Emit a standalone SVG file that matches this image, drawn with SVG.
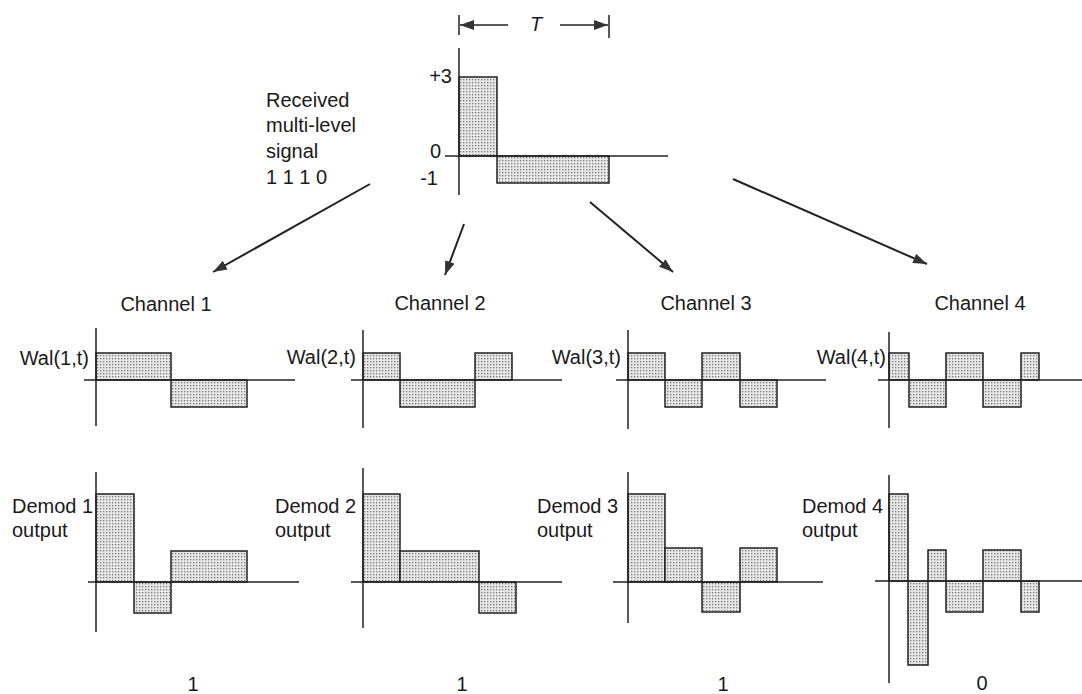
<svg xmlns="http://www.w3.org/2000/svg" width="1082" height="694" viewBox="0 0 1082 694">
  <defs>
    <!-- stippled fill used for all signal levels -->
    <pattern id="stipple" width="3" height="3" patternUnits="userSpaceOnUse">
      <rect width="3" height="3" fill="#e6e6e6"/>
      <rect x="1" y="1" width="1.3" height="1.3" fill="#7a7a7a"/>
    </pattern>
    <marker id="head" viewBox="0 0 14 10" refX="14" refY="5" markerWidth="14" markerHeight="10" markerUnits="userSpaceOnUse" orient="auto">
      <path d="M0,0 L14,5 L0,10 z" fill="#333"/>
    </marker>
    <marker id="dimhead" viewBox="0 0 14 10" refX="14" refY="5" markerWidth="14" markerHeight="10" markerUnits="userSpaceOnUse" orient="auto">
      <path d="M0,0 L14,5 L0,10 z" fill="#333"/>
    </marker>
  </defs>
  <style>
    .axis { stroke: #222; stroke-width: 1.5; fill: none; }
    .bar { fill: url(#stipple); stroke: #222; stroke-width: 1.5; }
    .lbl { font-family: "Liberation Sans", Arial, sans-serif; font-size: 20px; fill: #1a1a1a; }
    .arrow { stroke: #222; stroke-width: 2; fill: none; marker-end: url(#head); }
    .dim { stroke: #222; stroke-width: 1.5; fill: none; }
  </style>
  <rect width="1082" height="694" fill="#fff"/>

  <!-- received multi-level signal -->
  <g id="received-signal">
    <line class="dim" x1="459" y1="15" x2="459" y2="35"/>
    <line class="dim" x1="609" y1="15" x2="609" y2="38"/>
    <line class="dim" x1="508" y1="25" x2="460" y2="25" marker-end="url(#dimhead)"/>
    <line class="dim" x1="560" y1="25" x2="608" y2="25" marker-end="url(#dimhead)"/>
    <text class="lbl" x="536" y="31" text-anchor="middle" font-style="italic" font-size="18">T</text>
    <rect class="bar" x="459" y="77" width="38" height="79"/>
    <rect class="bar" x="497" y="156" width="112" height="27"/>
    <line class="axis" x1="459" y1="48" x2="459" y2="195"/>
    <line class="axis" x1="445" y1="156" x2="668" y2="156"/>
    <text class="lbl" x="452" y="83" text-anchor="end">+3</text>
    <text class="lbl" x="441" y="158" text-anchor="end">0</text>
    <text class="lbl" x="438" y="185" text-anchor="end">-1</text>
  </g>

  <g id="received-label">
    <text class="lbl" x="266" y="107">Received</text>
    <text class="lbl" x="266" y="132">multi-level</text>
    <text class="lbl" x="266" y="158">signal</text>
    <text class="lbl" x="266" y="184">1 1 1 0</text>
  </g>

  <!-- channel 1 -->
  <g id="channel-1">
    <text class="lbl" x="166" y="311" text-anchor="middle">Channel 1</text>
    <rect class="bar" x="96" y="353" width="75" height="27"/>
    <rect class="bar" x="171" y="380" width="76" height="27"/>
    <line class="axis" x1="96" y1="328" x2="96" y2="426"/>
    <line class="axis" x1="84" y1="380" x2="295" y2="380"/>
    <text class="lbl" x="89" y="365" text-anchor="end">Wal(1,t)</text>
    <rect class="bar" x="96" y="494" width="38" height="88"/>
    <rect class="bar" x="134" y="582" width="37" height="31"/>
    <rect class="bar" x="171" y="551" width="76" height="31"/>
    <line class="axis" x1="96" y1="472" x2="96" y2="632"/>
    <line class="axis" x1="88" y1="582" x2="299" y2="582"/>
    <text class="lbl" x="12" y="513">Demod 1</text>
    <text class="lbl" x="12" y="537">output</text>
    <text class="lbl" x="193" y="691" text-anchor="middle">1</text>
  </g>

  <!-- channel 2 -->
  <g id="channel-2">
    <text class="lbl" x="440" y="310" text-anchor="middle">Channel 2</text>
    <rect class="bar" x="363" y="353" width="37" height="27"/>
    <rect class="bar" x="400" y="380" width="75" height="27"/>
    <rect class="bar" x="475" y="353" width="37" height="27"/>
    <line class="axis" x1="363" y1="330" x2="363" y2="428"/>
    <line class="axis" x1="351" y1="380" x2="562" y2="380"/>
    <text class="lbl" x="356" y="364" text-anchor="end">Wal(2,t)</text>
    <rect class="bar" x="363" y="494" width="37" height="88"/>
    <rect class="bar" x="400" y="551" width="79" height="31"/>
    <rect class="bar" x="479" y="582" width="37" height="31"/>
    <line class="axis" x1="363" y1="468" x2="363" y2="628"/>
    <line class="axis" x1="351" y1="582" x2="562" y2="582"/>
    <text class="lbl" x="275" y="513">Demod 2</text>
    <text class="lbl" x="275" y="537">output</text>
    <text class="lbl" x="462" y="691" text-anchor="middle">1</text>
  </g>

  <!-- channel 3 -->
  <g id="channel-3">
    <text class="lbl" x="706" y="310" text-anchor="middle">Channel 3</text>
    <rect class="bar" x="628" y="353" width="37" height="27"/>
    <rect class="bar" x="665" y="380" width="37" height="27"/>
    <rect class="bar" x="702" y="353" width="38" height="27"/>
    <rect class="bar" x="740" y="380" width="37" height="27"/>
    <line class="axis" x1="628" y1="330" x2="628" y2="429"/>
    <line class="axis" x1="616" y1="380" x2="826" y2="380"/>
    <text class="lbl" x="621" y="364" text-anchor="end">Wal(3,t)</text>
    <rect class="bar" x="628" y="494" width="37" height="88"/>
    <rect class="bar" x="665" y="548" width="37" height="34"/>
    <rect class="bar" x="702" y="582" width="38" height="30"/>
    <rect class="bar" x="740" y="548" width="37" height="34"/>
    <line class="axis" x1="628" y1="472" x2="628" y2="623"/>
    <line class="axis" x1="613" y1="582" x2="823" y2="582"/>
    <text class="lbl" x="537" y="513">Demod 3</text>
    <text class="lbl" x="537" y="537">output</text>
    <text class="lbl" x="723" y="691" text-anchor="middle">1</text>
  </g>

  <!-- channel 4 -->
  <g id="channel-4">
    <text class="lbl" x="980" y="310" text-anchor="middle">Channel 4</text>
    <rect class="bar" x="889" y="353" width="20" height="27"/>
    <rect class="bar" x="909" y="380" width="37" height="27"/>
    <rect class="bar" x="946" y="353" width="37" height="27"/>
    <rect class="bar" x="983" y="380" width="38" height="27"/>
    <rect class="bar" x="1021" y="353" width="18" height="27"/>
    <line class="axis" x1="889" y1="332" x2="889" y2="428"/>
    <line class="axis" x1="878" y1="380" x2="1082" y2="380"/>
    <text class="lbl" x="886" y="364" text-anchor="end">Wal(4,t)</text>
    <rect class="bar" x="889" y="494" width="19" height="87"/>
    <rect class="bar" x="908" y="581" width="20" height="84"/>
    <rect class="bar" x="928" y="550" width="18" height="31"/>
    <rect class="bar" x="946" y="581" width="37" height="31"/>
    <rect class="bar" x="983" y="550" width="38" height="31"/>
    <rect class="bar" x="1021" y="581" width="18" height="31"/>
    <line class="axis" x1="889" y1="475" x2="889" y2="683"/>
    <line class="axis" x1="875" y1="581" x2="1082" y2="581"/>
    <text class="lbl" x="802" y="513">Demod 4</text>
    <text class="lbl" x="802" y="537">output</text>
    <text class="lbl" x="982" y="690" text-anchor="middle">0</text>
  </g>

  <!-- connectors: received signal to each channel -->
  <g id="connectors">
    <line class="arrow" x1="370" y1="184" x2="213" y2="272"/>
    <line class="arrow" x1="464" y1="224" x2="445" y2="275"/>
    <line class="arrow" x1="590" y1="202" x2="673" y2="272"/>
    <line class="arrow" x1="733" y1="179" x2="927" y2="264"/>
  </g>
</svg>
